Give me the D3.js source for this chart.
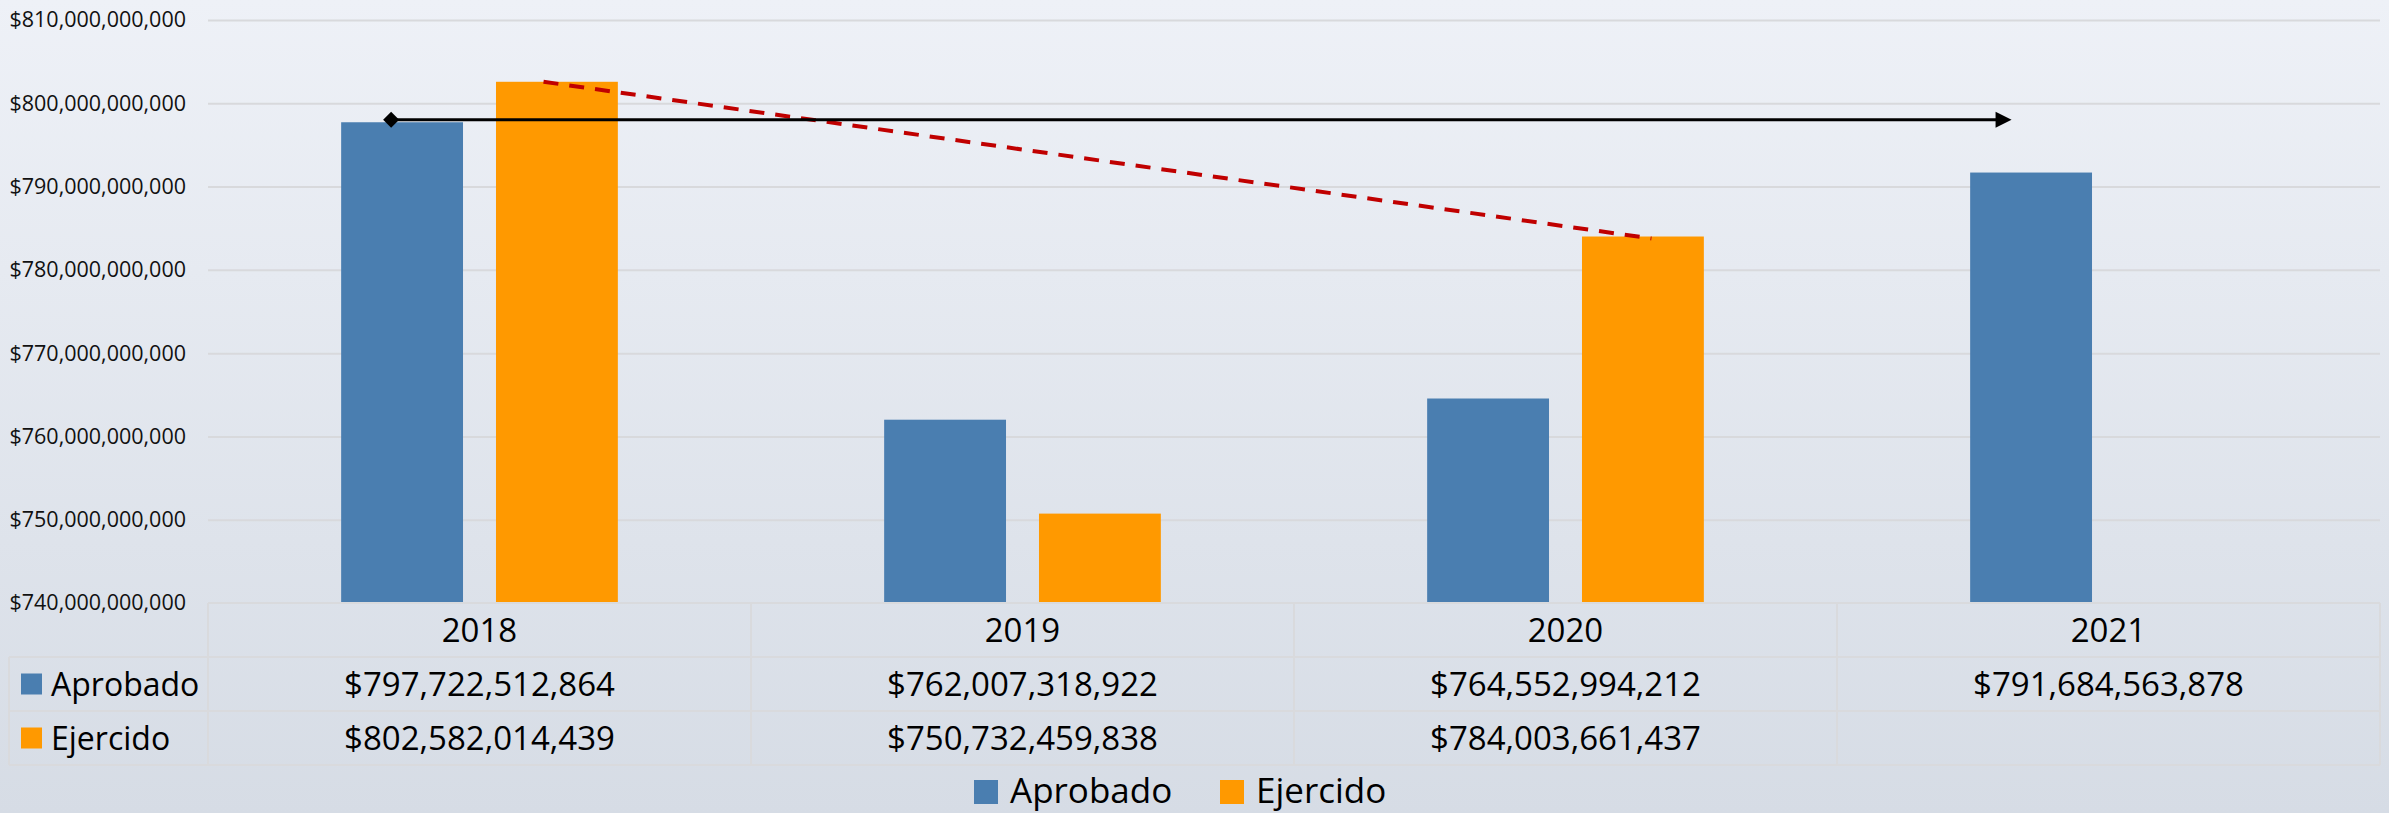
<!DOCTYPE html>
<html>
<head>
<meta charset="utf-8">
<script src="https://cdn.jsdelivr.net/npm/d3@7"></script>
<style>
  body { margin: 0; overflow: hidden; }
  svg { display: block; font-family: "Open Sans", sans-serif; }
</style>
</head>
<body>
<svg width="2389" height="813"></svg>
<script>
// data
const years = ["2018", "2019", "2020", "2021"];
const series = ["Aprobado", "Ejercido"];
const aprobado = [797722512864, 762007318922, 764552994212, 791684563878];
const ejercido = [802582014439, 750732459838, 784003661437, null];
const yTickValues = [740e9, 750e9, 760e9, 770e9, 780e9, 790e9, 800e9, 810e9];
const colors = { Aprobado: "#4A7EB0", Ejercido: "#FF9900" };

const svg = d3.select("svg");
const width = +svg.attr("width");
const height = +svg.attr("height");

const plot = { left: 208, right: 2380, top: 20, bottom: 603 };
const rowH = 54;
const legendColLeft = 9;

// background gradient
const defs = svg.append("defs");
const grad = defs.append("linearGradient")
    .attr("id", "bg").attr("x1", 0).attr("y1", 0).attr("x2", 0).attr("y2", 1);
grad.append("stop").attr("offset", "0%").attr("stop-color", "#EEF1F7");
grad.append("stop").attr("offset", "100%").attr("stop-color", "#D6DCE5");
svg.append("rect").attr("width", width).attr("height", height).attr("fill", "url(#bg)");

// scales
const x = d3.scaleBand().domain(years).range([plot.left, plot.right]);
const xSub = d3.scaleBand().domain(series).range([0, x.bandwidth()])
    .paddingInner(0.213).paddingOuter(0.86);
const y = d3.scaleLinear().domain([740e9, 810e9]).range([plot.bottom, plot.top]);
const fmt = d3.format("$,");

// gridlines
svg.append("g")
    .attr("transform", `translate(${plot.left},0)`)
    .call(d3.axisLeft(y).tickValues(yTickValues.slice(1))
        .tickSize(-(plot.right - plot.left)).tickFormat(""))
    .call(g => g.select(".domain").remove())
    .call(g => g.selectAll("line").attr("stroke", "#D8D9DC").attr("stroke-width", 2));

// y labels
svg.append("g")
    .attr("transform", `translate(${plot.left},0)`)
    .call(d3.axisLeft(y).tickValues(yTickValues).tickSize(0).tickPadding(22).tickFormat(fmt))
    .call(g => g.select(".domain").remove())
    .call(g => g.selectAll("text")
        .attr("font-family", "Open Sans").attr("font-size", 21.5).attr("fill", "#111"));

// bars
const barData = [];
years.forEach((yr, i) => {
  barData.push({ year: yr, key: "Aprobado", value: aprobado[i] });
  if (ejercido[i] != null) barData.push({ year: yr, key: "Ejercido", value: ejercido[i] });
});
svg.append("g").selectAll("rect")
    .data(barData)
    .join("rect")
    .attr("x", d => x(d.year) + xSub(d.key))
    .attr("width", xSub.bandwidth())
    .attr("y", d => y(d.value))
    .attr("height", d => y(740e9) - y(d.value))
    .attr("fill", d => colors[d.key]);

// red dashed trend (Ejercido 2018 -> 2020)
svg.append("line")
    .attr("x1", x("2018") + xSub("Ejercido") + xSub.bandwidth() * 0.39)
    .attr("y1", y(ejercido[0]))
    .attr("x2", x("2020") + xSub("Ejercido") + xSub.bandwidth() * 0.57)
    .attr("y2", y(ejercido[2]) + 2)
    .attr("stroke", "#C00000").attr("stroke-width", 4)
    .attr("stroke-dasharray", "15 11");

// black arrow (Aprobado 2018 -> 2021)
const ax1 = x("2018") + xSub("Aprobado") + xSub.bandwidth() * 0.41;
const ax2 = x("2021") + xSub("Aprobado") + xSub.bandwidth() * 0.34;
const ay = y(aprobado[0]) - 2.5;
svg.append("line")
    .attr("x1", ax1).attr("y1", ay).attr("x2", ax2 - 14).attr("y2", ay)
    .attr("stroke", "#000").attr("stroke-width", 3);
svg.append("path")
    .attr("d", `M${ax2},${ay} L${ax2 - 16},${ay - 8} L${ax2 - 16},${ay + 8} Z`)
    .attr("fill", "#000");
svg.append("path")
    .attr("d", `M${ax1},${ay - 8} L${ax1 + 8},${ay} L${ax1},${ay + 8} L${ax1 - 8},${ay} Z`)
    .attr("fill", "#000");

// data table
const table = svg.append("g");
const border = "#D9DADD";
const tTop = plot.bottom;
// horizontal lines
table.append("line").attr("x1", plot.left).attr("x2", plot.right)
    .attr("y1", tTop).attr("y2", tTop).attr("stroke", border).attr("stroke-width", 2);
[1, 2, 3].forEach(r => {
  table.append("line").attr("x1", legendColLeft).attr("x2", plot.right)
      .attr("y1", tTop + r * rowH).attr("y2", tTop + r * rowH)
      .attr("stroke", border).attr("stroke-width", 2);
});
// vertical lines
table.append("line").attr("x1", legendColLeft).attr("x2", legendColLeft)
    .attr("y1", tTop + rowH).attr("y2", tTop + 3 * rowH).attr("stroke", border).attr("stroke-width", 2);
years.concat(["end"]).forEach((yr, i) => {
  const xx = yr === "end" ? plot.right : x(yr);
  table.append("line").attr("x1", xx).attr("x2", xx)
      .attr("y1", tTop).attr("y2", tTop + 3 * rowH).attr("stroke", border).attr("stroke-width", 2);
});

const fs = 33;
const capShift = 11.8;
// header
table.selectAll("text.yr")
    .data(years)
    .join("text")
    .attr("class", "yr")
    .attr("x", d => x(d) + x.bandwidth() / 2)
    .attr("y", tTop + rowH / 2 + capShift)
    .attr("text-anchor", "middle")
    .attr("font-size", fs)
    .text(d => d);

// rows
const rows = [
  { key: "Aprobado", values: aprobado },
  { key: "Ejercido", values: ejercido }
];
rows.forEach((row, r) => {
  const cy = tTop + rowH * (r + 1) + rowH / 2;
  table.append("rect")
      .attr("x", 21).attr("y", cy - 10.5).attr("width", 21).attr("height", 21)
      .attr("fill", colors[row.key]);
  table.append("text")
      .attr("x", 51).attr("y", cy + capShift)
      .attr("font-size", 32).text(row.key);
  table.selectAll(null)
      .data(row.values.map((v, i) => ({ v, yr: years[i] })).filter(d => d.v != null))
      .join("text")
      .attr("x", d => x(d.yr) + x.bandwidth() / 2)
      .attr("y", cy + capShift)
      .attr("text-anchor", "middle")
      .attr("font-size", fs)
      .text(d => fmt(d.v));
});

// bottom legend
const legend = svg.append("g");
const legendItems = [
  { key: "Aprobado", x: 974 },
  { key: "Ejercido", x: 1220 }
];
legend.selectAll("rect")
    .data(legendItems)
    .join("rect")
    .attr("x", d => d.x).attr("y", 780)
    .attr("width", 24).attr("height", 24)
    .attr("fill", d => colors[d.key]);
legend.selectAll("text")
    .data(legendItems)
    .join("text")
    .attr("x", d => d.x + 36).attr("y", 803)
    .attr("font-size", 35)
    .text(d => d.key);
</script>
</body>
</html>
